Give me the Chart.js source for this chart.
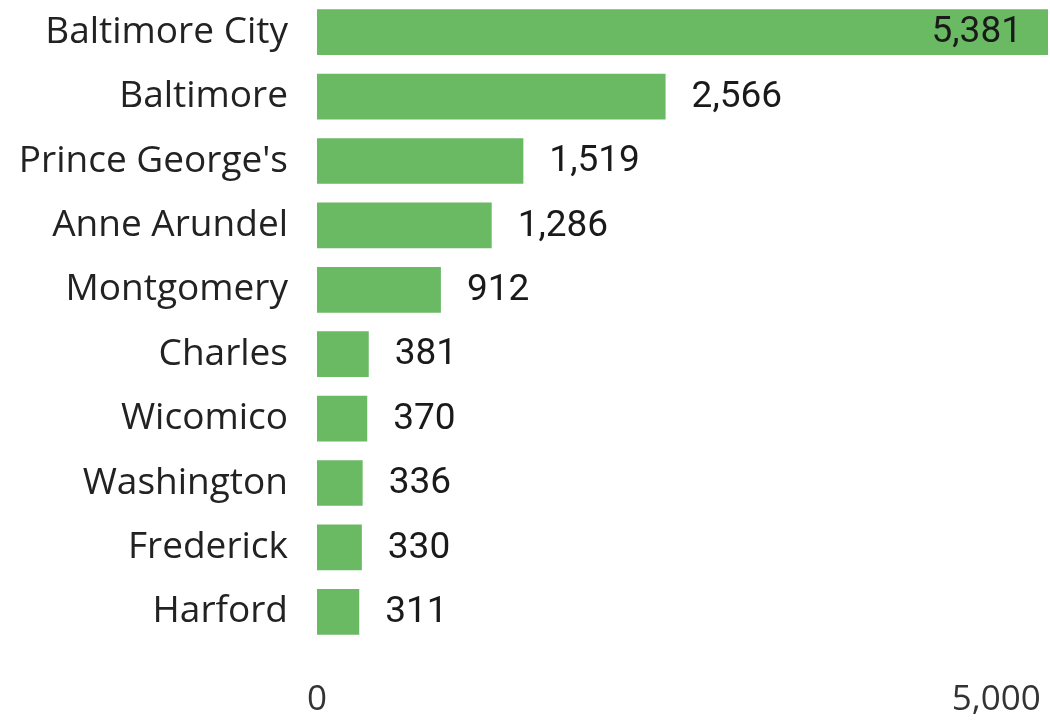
<!DOCTYPE html>
<html>
<head>
<meta charset="utf-8">
<script src="https://cdn.jsdelivr.net/npm/chart.js@4"></script>
<style>
  html, body { margin: 0; padding: 0; background: #fff; }
  #wrap { width: 1050px; height: 723px; }
</style>
</head>
<body>
<div id="wrap"><canvas id="myChart" width="1050" height="723"></canvas></div>
<script>
// dados do gráfico
const counties = ['Baltimore City', 'Baltimore', "Prince George's", 'Anne Arundel', 'Montgomery',
                  'Charles', 'Wicomico', 'Washington', 'Frederick', 'Harford'];
const counts = [5381, 2566, 1519, 1286, 912, 381, 370, 336, 330, 311];
const xTicks = [0, 5000];

const barColor = '#6ab963';
const fmt = v => v.toLocaleString('en-US');

// rótulos de valor no fim de cada barra
const valueLabels = {
    id: 'valueLabels',
    afterDatasetsDraw(chart) {
        const ctx = chart.ctx;
        const meta = chart.getDatasetMeta(0);
        ctx.save();
        ctx.font = '37px Roboto, sans-serif';
        ctx.fillStyle = '#1a1a1a';
        ctx.textBaseline = 'middle';
        meta.data.forEach((bar, i) => {
            const txt = fmt(counts[i]);
            const w = ctx.measureText(txt).width;
            if (bar.x + 26 + w > chart.chartArea.right) {
                ctx.textAlign = 'right';
                ctx.fillText(txt, bar.x - 26, bar.y + 1);
            } else {
                ctx.textAlign = 'left';
                ctx.fillText(txt, bar.x + 26, bar.y + 1);
            }
        });
        ctx.restore();
    }
};

const ctx = document.getElementById('myChart');
const myChart = new Chart(ctx, {
    type: 'bar',
    data: {
        labels: counties,
        datasets: [{
            data: counts,
            backgroundColor: barColor,
            barPercentage: 0.71,
            categoryPercentage: 1
        }]
    },
    options: {
        indexAxis: 'y',
        responsive: false,
        animation: false,
        layout: { padding: { top: 0, right: 2, bottom: 3, left: 0 } },
        plugins: {
            legend: { display: false },
            tooltip: { enabled: false }
        },
        scales: {
            x: {
                min: 0,
                max: 5381,
                grid: { display: false, drawTicks: false },
                border: { display: false },
                afterBuildTicks: axis => { axis.ticks = xTicks.map(v => ({ value: v })); },
                afterFit: axis => {
                    axis.height = 76;
                    axis.paddingLeft = 0;
                    axis.paddingRight = 0;
                },
                ticks: {
                    padding: 35,
                    maxRotation: 0,
                    color: '#333',
                    font: { family: '"Open Sans", sans-serif', size: 35 },
                    callback: v => fmt(v)
                }
            },
            y: {
                grid: { display: false, drawTicks: false },
                border: { display: false },
                afterFit: axis => {
                    axis.paddingTop = 0;
                    axis.paddingBottom = 0;
                    axis.width = 317;
                },
                ticks: {
                    padding: 29,
                    color: '#222',
                    font: { family: '"Open Sans", sans-serif', size: 37 }
                }
            }
        }
    },
    plugins: [valueLabels]
});
</script>
</body>
</html>
